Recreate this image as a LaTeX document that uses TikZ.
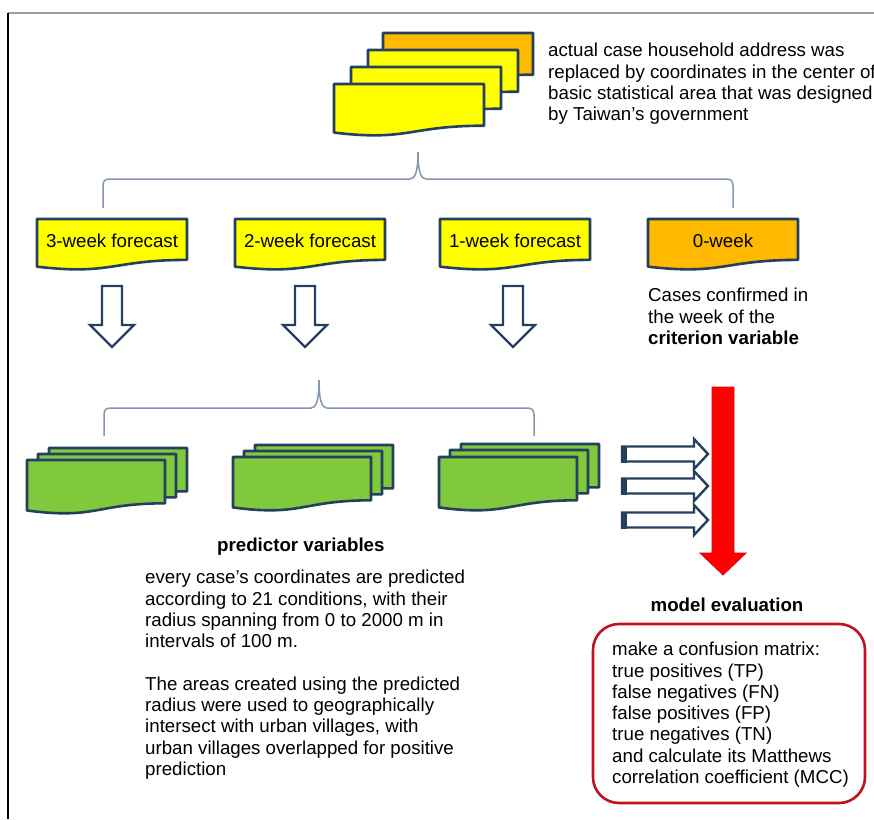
\documentclass[tikz,border=0pt]{standalone}
\usepackage{fontspec}
\setmainfont{Liberation Sans}
\definecolor{navy}{HTML}{243F60}
\definecolor{docyel}{HTML}{FFFF00}
\definecolor{docorg}{HTML}{FFB900}
\definecolor{docgrn}{HTML}{80C83C}
\definecolor{bracec}{HTML}{8497AD}
\definecolor{boxred}{HTML}{C0121C}
\newcommand\docshp[5]{%
  \filldraw[docline, fill=#5] (#1,#2) -- ({#1+#3},#2) -- ({#1+#3},{#2+0.802*#4})
    .. controls ({#1+0.5*#3},{#2+0.802*#4}) and ({#1+0.5*#3},{#2+1.107*#4}) .. (#1,{#2+0.934*#4}) -- cycle;}
\newcommand\downarr[1]{%
  \filldraw[blockarr] ({#1-10},286) -- ({#1+10},286) -- ({#1+10},325) -- ({#1+22},325) -- (#1,347)
    -- ({#1-22},325) -- ({#1-10},325) -- cycle;}
\newcommand\rightarr[1]{%
  \filldraw[blockarr] (622,{#1-7.5}) -- (694,{#1-7.5}) -- (694,{#1-15}) -- (708,#1) -- (694,{#1+15})
    -- (694,{#1+7.5}) -- (622,{#1+7.5}) -- cycle;
  \fill[navy] (621,{#1-8.5}) rectangle (627,{#1+8.5});}
\begin{document}
\begin{tikzpicture}[x=1pt,y=-1pt,
  docline/.style={draw=navy, line width=2.6pt, line join=round},
  blockarr/.style={draw=navy, line width=2.4pt, fill=white, line join=miter},
  bracel/.style={draw=bracec, line width=1.5pt},
  txt/.style={font=\fontsize{18.7}{21.3}\selectfont, inner sep=0pt, align=left, anchor=north west},
  lbl/.style={font=\fontsize{18.7}{21.3}\selectfont, inner sep=0pt, anchor=center}]
\useasboundingbox (0,0) rectangle (874,819);
\fill[white] (0,0) rectangle (874,819);
% frame lines
\draw[color=black!38, line width=1.5pt] (8,13) -- (874,13);
\draw[black, line width=1.6pt] (8,13) -- (8,819);

% top stack
\docshp{383}{33}{150}{52}{docorg}
\docshp{368}{50}{150}{52}{docyel}
\docshp{351}{67}{150}{52}{docyel}
\docshp{334}{84}{150}{52}{docyel}
\node[txt] (toptext) at (548,43) {actual case household address was\\replaced by coordinates in the center of\\basic statistical area that was designed\\by Taiwan’s government};

% brace 1
\draw[bracel] (103,208) -- (103,186) .. controls (103,181) and (105,179) .. (110,179) -- (410,179)
  .. controls (415,179) and (418,172) .. (418,152) .. controls (418,172) and (421,179) .. (426,179)
  -- (726,179) .. controls (731,179) and (733,181) .. (733,186) -- (733,208);

% forecast boxes
\docshp{37}{219}{150}{51}{docyel}
\docshp{235}{219}{150}{51}{docyel}
\docshp{440}{219}{150}{51}{docyel}
\docshp{648}{219}{150}{51}{docorg}
\node[lbl] (w3) at (112,241) {3-week forecast};
\node[lbl] (w2) at (310,241) {2-week forecast};
\node[lbl] (w1) at (515,241) {1-week forecast};
\node[lbl] (w0) at (723,241) {0-week};
\node[txt] (cases) at (648,288) {Cases confirmed in\\the week of the\\\textbf{criterion variable}};

% down arrows
\downarr{112}
\downarr{305}
\downarr{513}

% brace 2
\draw[bracel] (104,436) -- (104,415) .. controls (104,410) and (106,408) .. (111,408) -- (311,408)
  .. controls (316,408) and (319,401) .. (319,380) .. controls (319,401) and (322,408) .. (327,408)
  -- (527,408) .. controls (532,408) and (534,410) .. (534,415) -- (534,436);

% green stacks
\docshp{49}{448}{138}{54}{docgrn}
\docshp{38}{454}{138}{54}{docgrn}
\docshp{27}{460}{138}{54}{docgrn}
\docshp{255}{445}{138}{54}{docgrn}
\docshp{244}{451}{138}{54}{docgrn}
\docshp{233}{457}{138}{54}{docgrn}
\docshp{461}{444}{138}{54}{docgrn}
\docshp{450}{450}{138}{54}{docgrn}
\docshp{439}{457}{138}{54}{docgrn}

% right arrows
\rightarr{454}
\rightarr{486}
\rightarr{520}

% red arrow
\filldraw[fill=red, draw=red!85!black, line width=0.8pt] (712,387) -- (734,387) -- (734,553) -- (746,553)
  -- (723,575) -- (700,553) -- (712,553) -- cycle;

% texts
\node[txt, font=\fontsize{18.7}{21.3}\selectfont\bfseries] (pred) at (217,538) {predictor variables};
\node[txt] (predtext) at (145,570) {every case’s coordinates are predicted\\according to 21 conditions, with their\\radius spanning from 0 to 2000 m in\\intervals of 100 m.\\[21.3pt]The areas created using the predicted\\radius were used to geographically\\intersect with urban villages, with\\urban villages overlapped for positive\\prediction};

\node[lbl, font=\fontsize{18.7}{21.3}\selectfont\bfseries] (modev) at (727,605) {model evaluation};
\draw[boxred, line width=2.6pt, rounded corners=26pt] (593,624) rectangle (865,803);
\node[txt] (conf) at (612,642) {make a confusion matrix:\\true positives (TP)\\false negatives (FN)\\false positives (FP)\\true negatives (TN)\\and calculate its Matthews\\correlation coefficient (MCC)};
\end{tikzpicture}
\end{document}
